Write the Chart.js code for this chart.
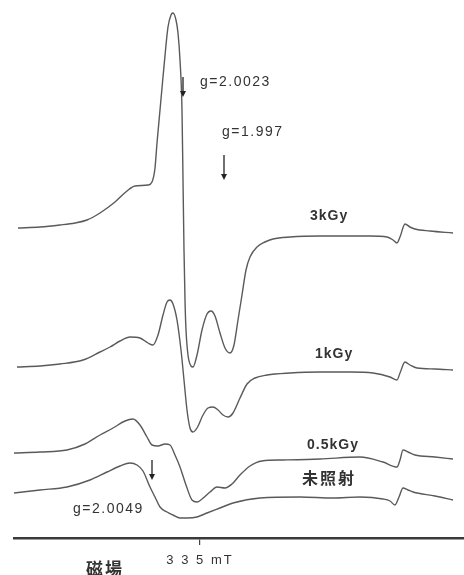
<!DOCTYPE html>
<html>
<head>
<meta charset="utf-8">
<script src="https://cdn.jsdelivr.net/npm/chart.js@4/dist/chart.umd.min.js"></script>
<style>
  html, body { margin: 0; padding: 0; background: #fff; }
  canvas { display: block; }
</style>
</head>
<body>
<canvas id="esr" width="464" height="575"></canvas>
<script>
// ESR spectra, field in arbitrary channel units, intensity in arbitrary units (traces offset)
const field3k = [4, 26, 46, 61, 73, 86, 101, 113, 121, 134, 138, 141, 143, 146, 149, 152, 154, 157, 159, 162, 164, 166, 168, 169, 170, 171, 172, 174, 177, 179, 183, 188, 193, 197, 201, 206, 211, 216, 220, 224, 228, 232, 236, 243, 251, 259, 276, 306, 336, 356, 373, 379, 383, 386, 391, 396, 401, 416, 439];
const sig3k = [310, 311, 313, 315, 318, 325, 336, 347, 352, 353, 356, 370, 395, 428, 461, 493, 511, 523, 525, 518, 505, 478, 428, 358, 288, 238, 208, 183, 172, 171, 183, 208, 224, 227, 222, 205, 190, 185, 193, 218, 243, 268, 281, 291, 296, 299, 301, 302, 302, 302, 301, 298, 295, 301, 314, 311, 309, 307, 305];

const field1k = [3, 26, 46, 69, 86, 96, 106, 116, 126, 134, 139, 144, 149, 153, 156, 159, 163, 167, 170, 173, 176, 179, 183, 189, 194, 199, 204, 209, 214, 219, 226, 233, 241, 253, 276, 306, 336, 359, 376, 383, 386, 391, 396, 403, 421, 439];
const sig1k = [171, 172, 174, 178, 186, 191, 197, 201, 200, 195, 193, 203, 223, 236, 238, 234, 218, 188, 158, 128, 110, 106, 110, 123, 130, 131, 128, 123, 121, 125, 140, 154, 160, 163, 165, 166, 166, 165, 161, 158, 165, 176, 173, 170, 169, 168];

const field05k = [0, 26, 53, 71, 86, 99, 111, 119, 126, 133, 138, 144, 151, 156, 161, 166, 172, 178, 183, 188, 196, 203, 211, 218, 226, 236, 248, 269, 306, 346, 369, 383, 386, 389, 394, 401, 421, 439];
const sig05k = [85, 86, 88, 94, 103, 110, 117, 119, 113, 101, 93, 92, 94, 93, 83, 71, 53, 38, 36, 39, 46, 51, 50, 54, 63, 72, 77, 78, 79, 81, 76, 71, 78, 88, 86, 83, 81, 79];

const field0 = [0, 26, 53, 76, 93, 106, 116, 123, 129, 136, 141, 146, 153, 159, 166, 173, 183, 193, 206, 219, 246, 286, 319, 346, 369, 376, 381, 385, 389, 394, 399, 421, 439];
const sig0 = [45, 48, 51, 58, 66, 72, 75, 73, 67, 51, 41, 31, 26, 23, 20, 20, 21, 25, 30, 35, 40, 41, 40, 41, 39, 37, 33, 41, 50, 48, 46, 42, 38];

const seriesNames = ['3kGy', '1kGy', '0.5kGy', '未照射'];

// tick on the field axis
const tickFields = [186];
const tickLabels = ['3 3 5 mT'];
const axisTitle = '磁場';

// text notes placed at (field, intensity)
const noteTexts = ['g=2.0023', 'g=1.997', '3kGy', '1kGy', '0.5kGy', '未照射', 'g=2.0049'];
const noteFields = [186, 208, 296, 301, 293, 288, 59];
const noteSigs = [456, 406, 322, 184, 93, 60, 29];
const noteBold = [false, false, true, true, true, true, false];

// arrows marking g values: field, from intensity, to intensity
const arrowFields = [169, 210, 138];
const arrowFrom = [461, 383, 78];
const arrowTo = [441, 358, 58];

const toPoints = (xs, ys) => xs.map((x, i) => ({ x: x, y: ys[i] }));

const lineColor = '#5a5a5a';
const textColor = '#333';
const latin = '"Liberation Sans", Arial, sans-serif';
const cjk = '"Noto Sans CJK JP", sans-serif';

const notesPlugin = {
  id: 'notes',
  beforeDraw(chart) {
    // the scan's lettering is widely spaced
    chart.ctx.letterSpacing = '2px';
  },
  afterDraw(chart) {
    const ctx = chart.ctx;
    const xs = chart.scales.x;
    const ys = chart.scales.y;
    ctx.save();
    ctx.fillStyle = textColor;
    ctx.textBaseline = 'middle';
    ctx.textAlign = 'left';
    noteTexts.forEach((t, i) => {
      const isCjk = /[\u3000-\u9fff]/.test(t);
      if (isCjk) {
        ctx.font = 'bold 16px ' + cjk;
        ctx.letterSpacing = '2px';
      } else {
        ctx.font = (noteBold[i] ? 'bold ' : '') + '14px ' + latin;
        ctx.letterSpacing = noteBold[i] ? '1px' : '1.5px';
      }
      ctx.fillText(t, xs.getPixelForValue(noteFields[i]), ys.getPixelForValue(noteSigs[i]));
    });

    // axis title, left of the tick label
    ctx.font = 'bold 17px ' + cjk;
    ctx.letterSpacing = '2px';
    ctx.fillText(axisTitle, 86, chart.chartArea.bottom + 31);

    // arrows
    ctx.strokeStyle = '#222';
    ctx.fillStyle = '#222';
    ctx.lineWidth = 1.3;
    arrowFields.forEach((f, i) => {
      const x = xs.getPixelForValue(f);
      const y1 = ys.getPixelForValue(arrowFrom[i]);
      const y2 = ys.getPixelForValue(arrowTo[i]);
      ctx.beginPath();
      ctx.moveTo(x, y1);
      ctx.lineTo(x, y2 - 4);
      ctx.stroke();
      ctx.beginPath();
      ctx.moveTo(x - 3, y2 - 6);
      ctx.lineTo(x + 3, y2 - 6);
      ctx.lineTo(x, y2);
      ctx.closePath();
      ctx.fill();
    });
    ctx.restore();
  }
};

const makeSet = (label, xs, ys) => ({
  label: label,
  data: toPoints(xs, ys),
  borderColor: lineColor,
  borderWidth: 1.4,
  pointRadius: 0,
  fill: false,
  cubicInterpolationMode: 'monotone'
});

new Chart(document.getElementById('esr'), {
  type: 'line',
  data: {
    datasets: [
      makeSet(seriesNames[0], field3k, sig3k),
      makeSet(seriesNames[1], field1k, sig1k),
      makeSet(seriesNames[2], field05k, sig05k),
      makeSet(seriesNames[3], field0, sig0)
    ]
  },
  options: {
    responsive: false,
    animation: false,
    layout: { padding: { left: 14, right: 0, top: 0, bottom: 0 } },
    plugins: { legend: { display: false }, tooltip: { enabled: false } },
    scales: {
      x: {
        type: 'linear',
        min: 0,
        max: 450,
        afterBuildTicks(scale) {
          scale.ticks = tickFields.map(v => ({ value: v }));
        },
        afterFit(scale) {
          scale.height = 37;
        },
        grid: { drawOnChartArea: false, drawTicks: true, tickLength: 7, color: '#444', lineWidth: 1.2 },
        border: { display: true, color: '#3a3a3a', width: 2.5 },
        ticks: {
          autoSkip: false,
          maxRotation: 0,
          padding: 8,
          color: textColor,
          font: { family: latin, size: 13 },
          callback: (v) => tickLabels[tickFields.indexOf(v)]
        }
      },
      y: { display: false, min: 0, max: 538 }
    }
  },
  plugins: [notesPlugin]
});
</script>
</body>
</html>
